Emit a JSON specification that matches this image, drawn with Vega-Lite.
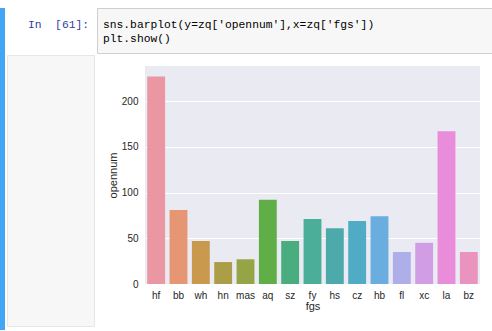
{
  "$schema": "https://vega.github.io/schema/vega-lite/v6.json",
  "padding": {"left": 0, "top": 7, "right": 0, "bottom": 2},
  "background": "white",
  "spacing": 1,
  "config": {
    "view": {"stroke": null},
    "font": "Liberation Sans",
    "axis": {"labelColor": "#262626", "titleColor": "#262626", "titleFontWeight": "normal"}
  },
  "hconcat": [
    {
      "width": 5, "height": 322,
      "data": {"values": []},
      "mark": {"type": "text"},
      "encoding": {},
      "view": {"fill": "#42A5F5", "stroke": null}
    },
    {
      "spacing": 1,
      "vconcat": [
        {
          "width": 88, "height": 45,
          "data": {"values": []},
          "mark": {"type": "text"},
          "encoding": {},
          "view": {"fill": null, "stroke": null},
          "title": {
            "text": "In\u00a0\u00a0[61]:",
            "anchor": "start", "frame": "group", "dx": 21, "offset": -22,
            "baseline": "top",
            "font": "Liberation Mono", "fontSize": 11.3, "fontWeight": "normal", "color": "#303F9F"
          }
        },
        {
          "width": 87, "height": 271,
          "data": {"values": []},
          "mark": {"type": "text"},
          "encoding": {},
          "view": {"fill": "#f7f7f7", "stroke": "#e6e6e6"}
        }
      ]
    },
    {
      "spacing": 12,
      "vconcat": [
        {
          "width": 397, "height": 45,
          "data": {"values": []},
          "mark": {"type": "text"},
          "encoding": {},
          "view": {"fill": "#f7f7f7", "stroke": "#cfcfcf"},
          "title": {
            "text": ["sns.barplot(y=zq['opennum'],x=zq['fgs'])", "plt.show()"],
            "anchor": "start", "frame": "group", "dx": 6, "offset": -36.5,
            "baseline": "top", "lineHeight": 14.7,
            "font": "Liberation Mono", "fontSize": 11.3, "fontWeight": "normal", "color": "#000000"
          }
        },
        {
          "spacing": 9,
          "hconcat": [
            {
              "width": 1, "height": 1,
              "data": {"values": []},
              "mark": {"type": "text"},
              "encoding": {},
              "view": {"fill": null, "stroke": null}
            },
            {
              "width": 335, "height": 218,
              "view": {"fill": "#EAEAF2", "stroke": null},
              "data": {"values": [
                {"fgs": "hf", "opennum": 227},
                {"fgs": "bb", "opennum": 81},
                {"fgs": "wh", "opennum": 47},
                {"fgs": "hn", "opennum": 24},
                {"fgs": "mas", "opennum": 27},
                {"fgs": "aq", "opennum": 92},
                {"fgs": "sz", "opennum": 47},
                {"fgs": "fy", "opennum": 71},
                {"fgs": "hs", "opennum": 61},
                {"fgs": "cz", "opennum": 69},
                {"fgs": "hb", "opennum": 74},
                {"fgs": "fl", "opennum": 35},
                {"fgs": "xc", "opennum": 45},
                {"fgs": "la", "opennum": 167},
                {"fgs": "bz", "opennum": 35}
              ]},
              "mark": {"type": "bar"},
              "encoding": {
                "x": {
                  "field": "fgs", "type": "nominal", "sort": null,
                  "scale": {"paddingInner": 0.2, "paddingOuter": 0.1},
                  "axis": {"labelAngle": 0, "ticks": false, "tickSize": 0, "domain": false, "grid": false,
                           "labelPadding": 6, "labelFontSize": 10, "titleFontSize": 11, "titlePadding": 0}
                },
                "y": {
                  "field": "opennum", "type": "quantitative",
                  "scale": {"domain": [0, 238.35], "nice": false},
                  "axis": {"values": [0, 50, 100, 150, 200], "ticks": false, "tickSize": 0, "domain": false,
                           "grid": true, "gridColor": "#ffffff", "gridWidth": 1, "gridOpacity": 1,
                           "labelPadding": 7, "labelFontSize": 10, "titleFontSize": 11, "titlePadding": 3}
                },
                "color": {
                  "field": "fgs", "type": "nominal", "legend": null,
                  "scale": {
                    "domain": ["hf", "bb", "wh", "hn", "mas", "aq", "sz", "fy", "hs", "cz", "hb", "fl", "xc", "la", "bz"],
                    "range": ["#EA96A3", "#E69673", "#C99A4E", "#AB9E47", "#95A444", "#60AE47", "#49AD80", "#4AAE99", "#4CABAA", "#50ABC4", "#6AAEE0", "#AEAEEA", "#D19EE6", "#E98CD9", "#EA93BE"]
                  }
                }
              }
            }
          ]
        }
      ]
    }
  ]
}
